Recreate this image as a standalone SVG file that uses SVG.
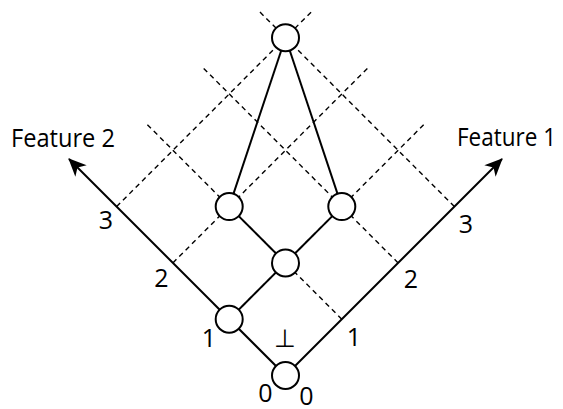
<svg xmlns="http://www.w3.org/2000/svg" width="563" height="409" viewBox="0 0 563 409">
<defs>
<style>
.dash{stroke:#000;stroke-width:1.4;stroke-dasharray:5 4;fill:none}
.edge{stroke:#000;stroke-width:2;fill:none}
.node{fill:#fff;stroke:#000;stroke-width:2}
text{font-family:"Open Sans","Noto Sans","Liberation Sans",sans-serif;font-size:25px;fill:#000}
</style>
<marker id="arr" viewBox="0 0 18 16" refX="17" refY="8" markerWidth="18" markerHeight="16" markerUnits="userSpaceOnUse" orient="auto">
<path d="M0,0 L18,8 L0,16 L5,8 Z" fill="#000"/>
</marker>
</defs>
<g id="grid">
<line class="dash" x1="341.8" y1="319.2" x2="144.8" y2="122.1"/>
<line class="dash" x1="398.1" y1="262.9" x2="201.1" y2="65.8"/>
<line class="dash" x1="454.4" y1="206.6" x2="257.4" y2="9.5"/>
<line class="dash" x1="229.2" y1="319.2" x2="426.3" y2="122.1"/>
<line class="dash" x1="172.9" y1="262.9" x2="370.0" y2="65.8"/>
<line class="dash" x1="116.6" y1="206.6" x2="313.7" y2="9.5"/>
</g>
<g id="connectors">
<line class="edge" x1="285.5" y1="375.5" x2="69" y2="159" marker-end="url(#arr)"/>
<line class="edge" x1="285.5" y1="375.5" x2="502" y2="159" marker-end="url(#arr)"/>
<line class="edge" x1="229.2" y1="319.2" x2="285.5" y2="262.9"/>
<line class="edge" x1="285.5" y1="262.9" x2="229.2" y2="206.6"/>
<line class="edge" x1="285.5" y1="262.9" x2="341.8" y2="206.6"/>
<line class="edge" x1="229.2" y1="206.6" x2="285.5" y2="37.7"/>
<line class="edge" x1="341.8" y1="206.6" x2="285.5" y2="37.7"/>
</g>
<g id="n00"><circle class="node" cx="285.5" cy="375.5" r="13.5"/></g>
<g id="n01"><circle class="node" cx="229.2" cy="319.2" r="13.5"/></g>
<g id="n11"><circle class="node" cx="285.5" cy="262.9" r="13.5"/></g>
<g id="n12"><circle class="node" cx="229.2" cy="206.6" r="13.5"/></g>
<g id="n21"><circle class="node" cx="341.8" cy="206.6" r="13.5"/></g>
<g id="n33"><circle class="node" cx="285.5" cy="37.7" r="13.5"/></g>
<g id="labels">
<text x="11" y="146.5" textLength="104" lengthAdjust="spacingAndGlyphs">Feature 2</text>
<text x="457" y="146" textLength="99" lengthAdjust="spacingAndGlyphs">Feature 1</text>
<g text-anchor="middle">
<text x="106" y="229">3</text>
<text x="161.5" y="287">2</text>
<text x="209" y="347">1</text>
<text x="265.5" y="402">0</text>
<text x="306.5" y="404.5">0</text>
<text x="285" y="347">⊥</text>
<text x="354" y="346">1</text>
<text x="411" y="288">2</text>
<text x="466" y="233">3</text>
</g>
</g>
</svg>
